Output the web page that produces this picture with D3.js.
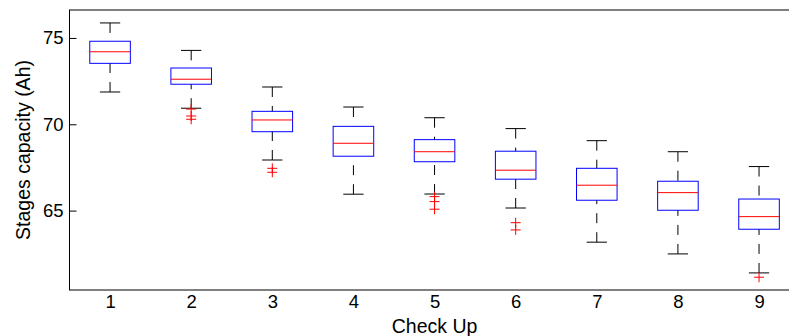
<!DOCTYPE html>
<html>
<head>
<meta charset="utf-8">
<script src="https://cdn.jsdelivr.net/npm/d3@7"></script>
<style>
  html, body { margin: 0; padding: 0; background: #fff; }
  svg { display: block; font-family: "Liberation Sans", Arial, sans-serif; }
</style>
</head>
<body>
<svg id="chart" width="789" height="336"></svg>
<script>
// ---- data ----
const categories = [1, 2, 3, 4, 5, 6, 7, 8, 9];
const whiskerHigh = [75.87, 74.28, 72.16, 71.00, 70.38, 69.75, 69.05, 68.41, 67.55];
const q3Values    = [74.81, 73.26, 70.75, 69.88, 69.11, 68.44, 67.45, 66.70, 65.67];
const medians     = [74.20, 72.61, 70.25, 68.90, 68.41, 67.34, 66.47, 66.04, 64.65];
const q1Values    = [73.53, 72.32, 69.57, 68.15, 67.83, 66.82, 65.60, 65.02, 63.92];
const whiskerLow  = [71.87, 70.93, 67.93, 65.95, 65.96, 65.15, 63.17, 62.49, 61.39];
const outliers    = [[], [70.88, 70.48, 70.29], [67.45, 67.22], [], [65.81, 65.52, 65.08], [64.30, 63.88], [], [], [61.14]];
const yTicks = [65, 70, 75];
const xLabel = "Check Up";
const yLabel = "Stages capacity (Ah)";

// ---- layout ----
const svg = d3.select("#chart");
const plotLeft = 69.5, plotTop = 10, plotBottom = 290, plotRight = 799.6;
const tickFont = 18.5, labelFont = 19.5;

const x = d3.scaleLinear().domain([0.5, 9.5]).range([plotLeft, plotRight]);
const y = d3.scaleLinear().domain([60.4, 76.62]).range([plotBottom, plotTop]);

const boxW = x(1.25) - x(1);   // half width of box
const capW = x(1.125) - x(1);  // half width of cap

const data = categories.map((c, i) => ({
  c, hi: whiskerHigh[i], q3: q3Values[i], med: medians[i], q1: q1Values[i], lo: whiskerLow[i], out: outliers[i]
}));

// frame
svg.append("rect")
  .attr("x", plotLeft).attr("y", plotTop)
  .attr("width", plotRight - plotLeft).attr("height", plotBottom - plotTop)
  .attr("fill", "none").attr("stroke", "#000").attr("stroke-width", 1);

// y axis (ticks inward)
const yAxis = d3.axisLeft(y).tickValues(yTicks).tickSizeInner(-7).tickSizeOuter(0).tickPadding(6);
const gy = svg.append("g").attr("transform", `translate(${plotLeft},0)`).call(yAxis);
gy.select(".domain").remove();
gy.selectAll("text").attr("font-size", tickFont).attr("fill", "#000").attr("font-family", "Liberation Sans, Arial, sans-serif");
gy.selectAll("line").attr("stroke", "#000");

// x axis (no tick marks)
const xAxis = d3.axisBottom(x).tickValues(categories).tickSize(0).tickPadding(5).tickFormat(d3.format("d"));
const gx = svg.append("g").attr("transform", `translate(0,${plotBottom})`).call(xAxis);
gx.select(".domain").remove();
gx.selectAll("text").attr("font-size", tickFont).attr("fill", "#000").attr("font-family", "Liberation Sans, Arial, sans-serif");

// axis labels
svg.append("text")
  .attr("x", (plotLeft + plotRight) / 2).attr("y", 332.5)
  .attr("text-anchor", "middle").attr("font-size", labelFont).attr("fill", "#000")
  .text(xLabel);
svg.append("text")
  .attr("transform", `translate(29.5,${(plotTop + plotBottom) / 2}) rotate(-90)`)
  .attr("text-anchor", "middle").attr("font-size", labelFont).attr("fill", "#000")
  .text(yLabel);

// boxes
const g = svg.append("g");
const boxes = g.selectAll("g.box").data(data).join("g").attr("class", "box");

// whiskers (dashed, drawn from cap toward box)
boxes.append("line")
  .attr("x1", d => x(d.c)).attr("x2", d => x(d.c))
  .attr("y1", d => y(d.hi)).attr("y2", d => y(d.q3))
  .attr("stroke", "#000").attr("stroke-dasharray", "10,9");
boxes.append("line")
  .attr("x1", d => x(d.c)).attr("x2", d => x(d.c))
  .attr("y1", d => y(d.lo)).attr("y2", d => y(d.q1))
  .attr("stroke", "#000").attr("stroke-dasharray", "10,9");
// caps
boxes.append("line")
  .attr("x1", d => x(d.c) - capW).attr("x2", d => x(d.c) + capW)
  .attr("y1", d => y(d.hi)).attr("y2", d => y(d.hi))
  .attr("stroke", "#000");
boxes.append("line")
  .attr("x1", d => x(d.c) - capW).attr("x2", d => x(d.c) + capW)
  .attr("y1", d => y(d.lo)).attr("y2", d => y(d.lo))
  .attr("stroke", "#000");
// box
boxes.append("rect")
  .attr("x", d => x(d.c) - boxW).attr("width", 2 * boxW)
  .attr("y", d => y(d.q3)).attr("height", d => y(d.q1) - y(d.q3))
  .attr("fill", "none").attr("stroke", "#0000ff");
// median
boxes.append("line")
  .attr("x1", d => x(d.c) - boxW).attr("x2", d => x(d.c) + boxW)
  .attr("y1", d => y(d.med)).attr("y2", d => y(d.med))
  .attr("stroke", "#ff0000");
// outliers
boxes.each(function(d) {
  d3.select(this).selectAll("path.out").data(d.out).join("path").attr("class", "out")
    .attr("d", v => {
      const cx = x(d.c), cy = y(v), s = 5;
      return `M${cx - s},${cy}H${cx + s}M${cx},${cy - s}V${cy + s}`;
    })
    .attr("stroke", "#ff0000").attr("fill", "none");
});
</script>
</body>
</html>
